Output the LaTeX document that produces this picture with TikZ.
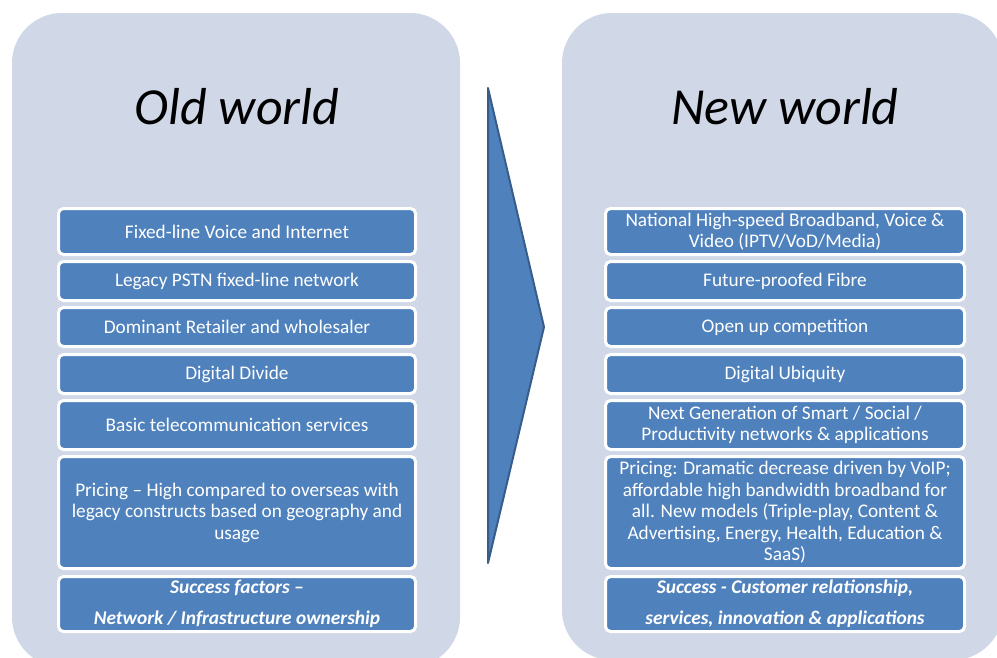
\documentclass[tikz,border=0pt]{standalone}
\usepackage{fontspec}
\setmainfont{Carlito}
\usepackage{tikz}
\usepackage{xcolor}

\definecolor{panelgrey}{HTML}{D0D8E8}
\definecolor{boxblue}{HTML}{4F81BD}
\definecolor{arrowedge}{HTML}{385D8A}

\begin{document}
\begin{tikzpicture}[x=1pt, y=-1pt,
  every node/.style={font=\fontsize{19.3}{21.5}\selectfont},
  item/.style={fill=boxblue, draw=white, line width=3pt, rounded corners=5pt,
    text=white, align=center, inner sep=0pt},
  olditem/.style={item, minimum width=357pt},
  newitem/.style={item, minimum width=359pt},
  success/.style={font=\fontsize{19.4}{31}\selectfont\bfseries\itshape},
  worldtitle/.style={font=\fontsize{52}{60}\selectfont\itshape}]
  \useasboundingbox (0,0) rectangle (997,657);
  \clip (0,0) rectangle (997,657);
  % Bakgrunnsfelt
  \fill[panelgrey, rounded corners=50pt] (12,13) rectangle (460,667);
  \fill[panelgrey, rounded corners=50pt] (562,13) rectangle (1003,660);
  % Pil i midten
  \filldraw[fill=boxblue, draw=arrowedge, line width=2pt, line join=round]
    (488,88) -- (544,327) -- (488,563) -- cycle;
  % Titler
  \node[worldtitle] (oldtitle) at (237,107) {Old world};
  \node[worldtitle] (newtitle) at (785,107) {New world};
  % Gammel verden
  \node[olditem, minimum height=46pt] (old1) at (237,231.5) {Fixed-line Voice and Internet};
  \node[olditem, minimum height=39pt] (old2) at (237,281) {Legacy PSTN fixed-line network};
  \node[olditem, minimum height=39pt] (old3) at (237,327) {Dominant Retailer and wholesaler};
  \node[olditem, minimum height=39pt] (old4) at (237,374) {Digital Divide};
  \node[olditem, minimum height=49pt] (old5) at (237,425) {Basic telecommunication services};
  \node[olditem, minimum height=112pt] (old6) at (237,512.5)
    {Pricing -- High compared to overseas with\\legacy constructs based on geography and\\usage};
  \node[olditem, minimum height=55pt, success] (old7) at (237,604)
    {Success factors --\\Network / Infrastructure ownership};
  % Ny verden
  \node[newitem, minimum height=46pt] (new1) at (785,231.5)
    {National High-speed Broadband, Voice \&\\Video (IPTV/VoD/Media)};
  \node[newitem, minimum height=39pt] (new2) at (785,281) {Future-proofed Fibre};
  \node[newitem, minimum height=39pt] (new3) at (785,327) {Open up competition};
  \node[newitem, minimum height=39pt] (new4) at (785,374) {Digital Ubiquity};
  \node[newitem, minimum height=49pt] (new5) at (785,425)
    {Next Generation of Smart / Social /\\Productivity networks \& applications};
  \node[newitem, minimum height=112pt] (new6) at (785,512.5)
    {Pricing: Dramatic decrease driven by VoIP;\\affordable high bandwidth broadband for\\all. New models (Triple-play, Content \&\\Advertising, Energy, Health, Education \&\\SaaS)};
  \node[newitem, minimum height=55pt, success] (new7) at (785,604)
    {Success - Customer relationship,\\services, innovation \& applications};
\end{tikzpicture}
\end{document}
